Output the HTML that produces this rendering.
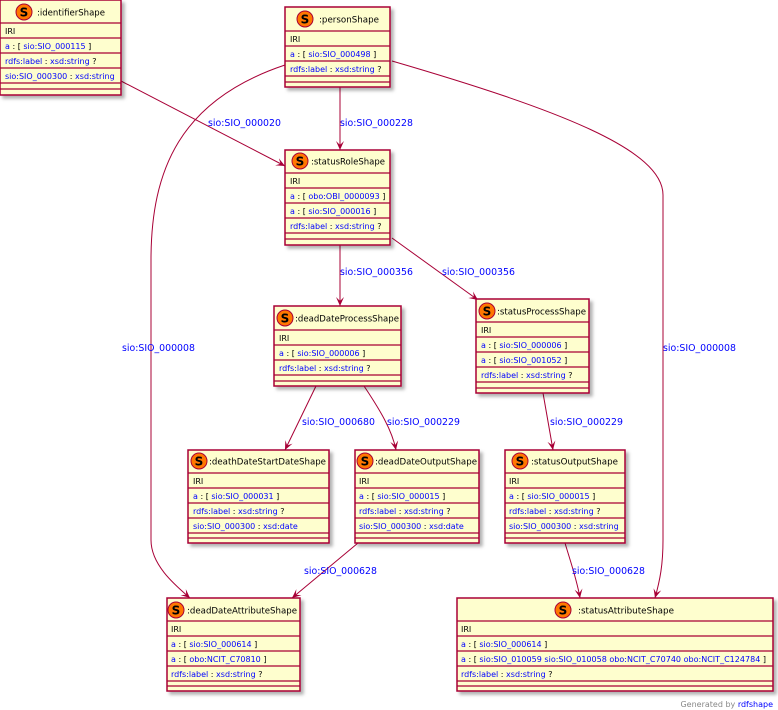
<!DOCTYPE html>
<html><head><meta charset="utf-8"><style>
html,body{margin:0;padding:0;background:#fff;width:778px;height:710px;overflow:hidden}
svg{display:block}
text{font-family:"DejaVu Sans","Liberation Sans",sans-serif}
.r{font-size:8px;fill:#0000ff}
.k{fill:#000}
.h{font-size:9px;fill:#000}
.l{font-size:9.4px;fill:#0000ff}
.e{fill:none;stroke:#a80036;stroke-width:1}
</style></head><body>
<svg width="778" height="710" viewBox="0 0 778 710" xmlns="http://www.w3.org/2000/svg">
<defs>
<marker id="a" markerWidth="10" markerHeight="10" refX="9" refY="5" orient="auto" markerUnits="userSpaceOnUse"><path d="M0,1 L9,5 L0,9 L4,5 Z" fill="#a80036"/></marker>
<filter id="s" x="-10%" y="-10%" width="130%" height="130%"><feDropShadow dx="3" dy="3" stdDeviation="1.5" flood-color="#000" flood-opacity="0.3"/></filter>
<g id="S"><circle cx="0" cy="0" r="8" fill="#ff7700" stroke="#a80036" stroke-width="1"/><text x="0" y="4.5" text-anchor="middle" font-size="12" font-weight="bold" fill="#000">S</text></g>
</defs>

<path class="e" d="M121,81 L285,166" marker-end="url(#a)"/>
<path class="e" d="M340,87 L340,150" marker-end="url(#a)"/>
<path class="e" d="M285,65 C180,100 151,170 151,260 L151,540 C151,565 175,585 190,598" marker-end="url(#a)"/>
<path class="e" d="M392,61 C560,110 663,150 663,195 L663,540 C663,565 660,580 655,598" marker-end="url(#a)"/>
<path class="e" d="M340,245 L340,306" marker-end="url(#a)"/>
<path class="e" d="M392,238 L478,300" marker-end="url(#a)"/>
<path class="e" d="M316,386 L285,450" marker-end="url(#a)"/>
<path class="e" d="M364,386 C380,410 392,430 396,450" marker-end="url(#a)"/>
<path class="e" d="M543,393 L553,450" marker-end="url(#a)"/>
<path class="e" d="M358,543 L292,598" marker-end="url(#a)"/>
<path class="e" d="M565,543 C570,560 577,580 580,598" marker-end="url(#a)"/>

<text class="l" x="208" y="126">sio:SIO_000020</text>
<text class="l" x="340" y="126">sio:SIO_000228</text>
<text class="l" x="122" y="351">sio:SIO_000008</text>
<text class="l" x="663" y="351">sio:SIO_000008</text>
<text class="l" x="340" y="275">sio:SIO_000356</text>
<text class="l" x="442" y="275">sio:SIO_000356</text>
<text class="l" x="302" y="425">sio:SIO_000680</text>
<text class="l" x="387" y="425">sio:SIO_000229</text>
<text class="l" x="550" y="425">sio:SIO_000229</text>
<text class="l" x="304" y="574">sio:SIO_000628</text>
<text class="l" x="572" y="574">sio:SIO_000628</text>

<g fill="#fefece" stroke="#a80036" stroke-width="1.5" filter="url(#s)">
<rect x="0" y="0" width="121" height="95"/>
<rect x="285" y="7" width="105" height="80"/>
<rect x="285" y="150" width="105" height="95"/>
<rect x="274" y="306" width="127" height="80"/>
<rect x="476" y="299" width="113" height="94"/>
<rect x="188" y="450" width="141" height="93"/>
<rect x="355" y="450" width="124" height="93"/>
<rect x="505" y="450" width="120" height="93"/>
<rect x="167" y="598" width="133" height="93"/>
<rect x="457" y="598" width="316" height="93"/>
</g>
<g stroke="#a80036" stroke-width="1.2">
<path d="M0,23H121M0,38H121M0,53H121M0,68H121M0,83H121M0,89H121"/>
<path d="M285,31H390M285,46H390M285,61H390M285,76H390M285,82H390"/>
<path d="M285,173H390M285,188H390M285,203H390M285,218H390M285,233H390M285,239H390"/>
<path d="M274,330H401M274,345H401M274,360H401M274,375H401M274,381H401"/>
<path d="M476,322H589M476,337H589M476,352H589M476,367H589M476,382H589M476,388H589"/>
<path d="M188,473H329M188,488H329M188,503H329M188,518H329M188,533H329M188,538H329"/>
<path d="M355,473H479M355,488H479M355,503H479M355,518H479M355,533H479M355,538H479"/>
<path d="M505,473H625M505,488H625M505,503H625M505,518H625M505,533H625M505,538H625"/>
<path d="M167,621H300M167,636H300M167,651H300M167,666H300M167,681H300M167,686H300"/>
<path d="M457,621H773M457,636H773M457,651H773M457,666H773M457,681H773M457,686H773"/>
</g>

<use href="#S" x="24" y="12"/><text class="h" x="37" y="15.5" textLength="68" lengthAdjust="spacingAndGlyphs">:identifierShape</text>
<use href="#S" x="305" y="19"/><text class="h" x="319" y="22.5" textLength="60" lengthAdjust="spacingAndGlyphs">:personShape</text>
<use href="#S" x="300" y="161"/><text class="h" x="311" y="164.5" textLength="74" lengthAdjust="spacingAndGlyphs">:statusRoleShape</text>
<use href="#S" x="285" y="318"/><text class="h" x="295" y="321.5" textLength="104" lengthAdjust="spacingAndGlyphs">:deadDateProcessShape</text>
<use href="#S" x="487" y="311"/><text class="h" x="497" y="314.5" textLength="89" lengthAdjust="spacingAndGlyphs">:statusProcessShape</text>
<use href="#S" x="199" y="461"/><text class="h" x="209" y="464.5" textLength="117" lengthAdjust="spacingAndGlyphs">:deathDateStartDateShape</text>
<use href="#S" x="365" y="461"/><text class="h" x="375" y="464.5" textLength="102" lengthAdjust="spacingAndGlyphs">:deadDateOutputShape</text>
<use href="#S" x="520" y="461"/><text class="h" x="531" y="464.5" textLength="87" lengthAdjust="spacingAndGlyphs">:statusOutputShape</text>
<use href="#S" x="176" y="610"/><text class="h" x="187" y="613.5" textLength="110" lengthAdjust="spacingAndGlyphs">:deadDateAttributeShape</text>
<use href="#S" x="563" y="610"/><text class="h" x="578" y="613.5" textLength="96" lengthAdjust="spacingAndGlyphs">:statusAttributeShape</text>

<g class="r">
<text x="5" y="34" class="k">IRI</text>
<text x="5" y="49">a <tspan class="k">: [</tspan> sio:SIO_000115 <tspan class="k">]</tspan></text>
<text x="5" y="64">rdfs:label <tspan class="k">:</tspan> xsd:string <tspan class="k"> ?</tspan></text>
<text x="5" y="79">sio:SIO_000300 <tspan class="k">:</tspan> xsd:string</text>

<text x="290" y="42" class="k">IRI</text>
<text x="290" y="57">a <tspan class="k">: [</tspan> sio:SIO_000498 <tspan class="k">]</tspan></text>
<text x="290" y="72">rdfs:label <tspan class="k">:</tspan> xsd:string <tspan class="k"> ?</tspan></text>

<text x="290" y="184" class="k">IRI</text>
<text x="290" y="199">a <tspan class="k">: [</tspan> obo:OBI_0000093 <tspan class="k">]</tspan></text>
<text x="290" y="214">a <tspan class="k">: [</tspan> sio:SIO_000016 <tspan class="k">]</tspan></text>
<text x="290" y="229">rdfs:label <tspan class="k">:</tspan> xsd:string <tspan class="k"> ?</tspan></text>

<text x="279" y="341" class="k">IRI</text>
<text x="279" y="356">a <tspan class="k">: [</tspan> sio:SIO_000006 <tspan class="k">]</tspan></text>
<text x="279" y="371">rdfs:label <tspan class="k">:</tspan> xsd:string <tspan class="k"> ?</tspan></text>

<text x="481" y="333" class="k">IRI</text>
<text x="481" y="348">a <tspan class="k">: [</tspan> sio:SIO_000006 <tspan class="k">]</tspan></text>
<text x="481" y="363">a <tspan class="k">: [</tspan> sio:SIO_001052 <tspan class="k">]</tspan></text>
<text x="481" y="378">rdfs:label <tspan class="k">:</tspan> xsd:string <tspan class="k"> ?</tspan></text>

<text x="193" y="484" class="k">IRI</text>
<text x="193" y="499">a <tspan class="k">: [</tspan> sio:SIO_000031 <tspan class="k">]</tspan></text>
<text x="193" y="514">rdfs:label <tspan class="k">:</tspan> xsd:string <tspan class="k"> ?</tspan></text>
<text x="193" y="529">sio:SIO_000300 <tspan class="k">:</tspan> xsd:date</text>

<text x="359" y="484" class="k">IRI</text>
<text x="359" y="499">a <tspan class="k">: [</tspan> sio:SIO_000015 <tspan class="k">]</tspan></text>
<text x="359" y="514">rdfs:label <tspan class="k">:</tspan> xsd:string <tspan class="k"> ?</tspan></text>
<text x="359" y="529">sio:SIO_000300 <tspan class="k">:</tspan> xsd:date</text>

<text x="509" y="484" class="k">IRI</text>
<text x="509" y="499">a <tspan class="k">: [</tspan> sio:SIO_000015 <tspan class="k">]</tspan></text>
<text x="509" y="514">rdfs:label <tspan class="k">:</tspan> xsd:string <tspan class="k"> ?</tspan></text>
<text x="509" y="529">sio:SIO_000300 <tspan class="k">:</tspan> xsd:string</text>

<text x="171" y="632" class="k">IRI</text>
<text x="171" y="647">a <tspan class="k">: [</tspan> sio:SIO_000614 <tspan class="k">]</tspan></text>
<text x="171" y="662">a <tspan class="k">: [</tspan> obo:NCIT_C70810 <tspan class="k">]</tspan></text>
<text x="171" y="677">rdfs:label <tspan class="k">:</tspan> xsd:string <tspan class="k"> ?</tspan></text>

<text x="461" y="632" class="k">IRI</text>
<text x="461" y="647">a <tspan class="k">: [</tspan> sio:SIO_000614 <tspan class="k">]</tspan></text>
<text x="461" y="662" textLength="305" lengthAdjust="spacingAndGlyphs">a <tspan class="k">: [</tspan> sio:SIO_010059 sio:SIO_010058 obo:NCIT_C70740 obo:NCIT_C124784 <tspan class="k">]</tspan></text>
<text x="461" y="677">rdfs:label <tspan class="k">:</tspan> xsd:string <tspan class="k"> ?</tspan></text>
</g>

<text x="773" y="707" text-anchor="end" font-size="8" fill="#888">Generated by <tspan fill="#0000ff">rdfshape</tspan></text>
</svg>
</body></html>
